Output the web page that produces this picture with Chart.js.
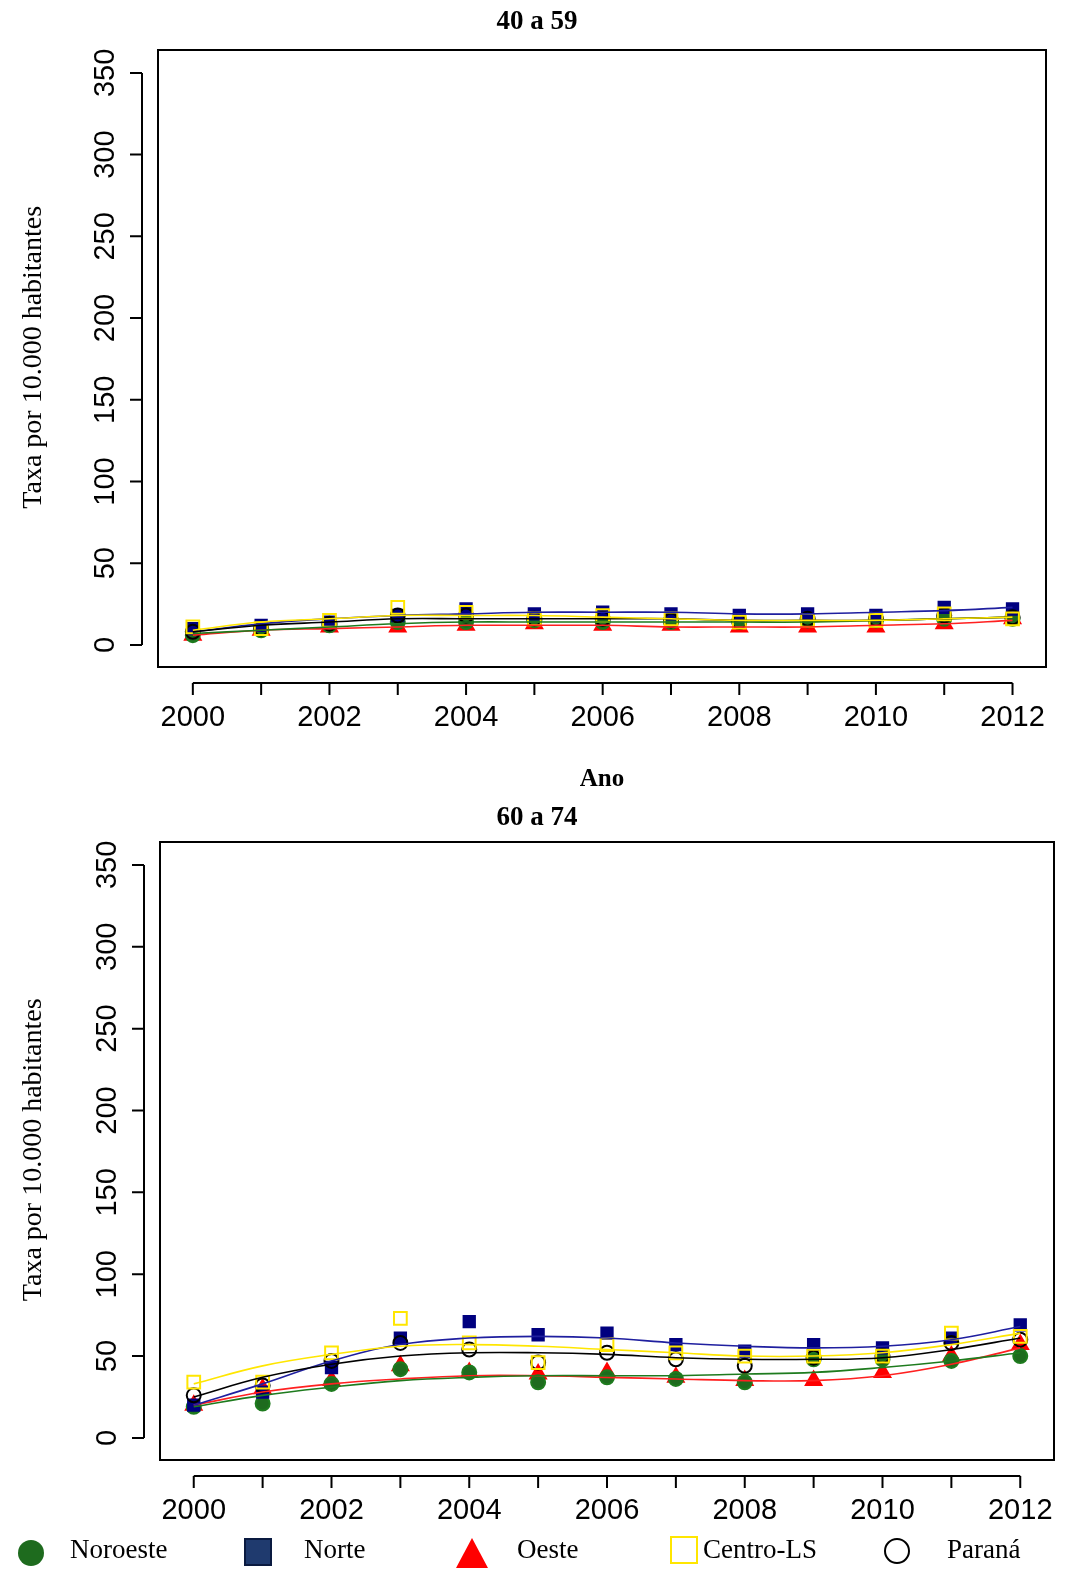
<!DOCTYPE html>
<html><head><meta charset="utf-8">
<script src="https://cdn.jsdelivr.net/npm/chart.js@4/dist/chart.umd.min.js"></script>
<style>
body{margin:0;background:#fff;width:1074px;height:1585px;position:relative;overflow:hidden}
canvas{position:absolute;left:0}
#legend{position:absolute;top:1534px;left:0;width:1074px;height:40px;font:27px "Liberation Serif";}
#legend span{position:absolute;top:0}
.mk{position:absolute;box-sizing:border-box}
</style></head><body>
<canvas id="c1" width="1074" height="800" style="top:0"></canvas>
<canvas id="c2" width="1074" height="785" style="top:800px"></canvas>
<div id="legend">
  <div class="mk" style="left:18px;top:6px;width:26px;height:26px;border-radius:50%;background:#1e6b1e"></div><span style="left:70px">Noroeste</span>
  <div class="mk" style="left:244px;top:4px;width:28px;height:28px;background:#1f3a6e;border:2px solid #0a1a40"></div><span style="left:304px">Norte</span>
  <div class="mk" style="left:456px;top:4px;width:0;height:0;border-left:16px solid transparent;border-right:16px solid transparent;border-bottom:30px solid red"></div><span style="left:517px">Oeste</span>
  <div class="mk" style="left:670px;top:2px;width:28px;height:28px;border:2px solid #ffe600"></div><span style="left:703px">Centro-LS</span>
  <div class="mk" style="left:884px;top:4px;width:26px;height:26px;border-radius:50%;border:2px solid #000"></div><span style="left:947px">Paraná</span>
</div>
<script>
const years = [2000,2001,2002,2003,2004,2005,2006,2007,2008,2009,2010,2011,2012];
const yTicks = [0,50,100,150,200,250,300,350];
const xTicks = [2000,2002,2004,2006,2008,2010,2012];

// 40 a 59 - observed
const a_noroeste = [6,9,12,14,14,15,14,14,15,15,15,16,16];
const a_norte    = [10,12,14,18,22,19,20,19,18,19,18,23,22];
const a_oeste    = [6,9,11,11,12,13,12,12,11,11,11,13,16];
const a_centro   = [11,10,15,23,20,16,18,16,14,15,15,19,16];
const a_parana   = [8,10,13,18,18,16,16,15,14,16,16,18,17];
// 40 a 59 - fitted curves
const af_noroeste = [7,9,11,13,14,14,14,14,14,14,15,16,17];
const af_norte    = [8,13,16,18,19,20,20,20,19,19,20,21,23];
const af_oeste    = [6,9,10,11,12,12,12,11,11,11,12,13,15];
const af_centro   = [9,14,16,18,18,18,17,16,15,15,15,16,17];
const af_parana   = [8,12,14,16,16,16,16,16,15,15,15,16,17];

// 60 a 74 - observed
const b_noroeste = [19,21,33,42,40,34,37,36,34,48,48,47,50];
const b_norte    = [20,28,43,61,71,63,64,57,53,57,55,61,69];
const b_oeste    = [20,30,35,44,40,39,40,37,35,35,40,50,57];
const b_centro   = [34,34,52,73,58,46,57,52,50,50,50,64,62];
const b_parana   = [26,32,47,58,54,46,52,48,44,49,50,58,60];
// 60 a 74 - fitted curves
const bf_noroeste = [19,26,31,35,37,38,38,38,39,40,43,47,52];
const bf_norte    = [20,33,47,57,61,62,61,58,56,55,56,60,68];
const bf_oeste    = [20,28,33,36,38,38,37,36,35,35,38,45,55];
const bf_centro   = [33,44,51,56,57,56,54,52,50,50,52,57,64];
const bf_parana   = [25,37,45,50,52,52,51,49,48,48,49,54,61];

const styles = {
  noroeste:{c:'#1e7b1e',fill:'#1e6b1e',p:'circle',r:7,line:'#1e7b1e'},
  norte:{c:'#00007f',fill:'#00007f',p:'rect',r:8,line:'#1f1f9f'},
  oeste:{c:'#ff0000',fill:'#ff0000',p:'triangle',r:9,line:'#ff2020'},
  centro:{c:'#ffe600',fill:'rgba(0,0,0,0)',p:'rect',r:9,line:'#ffe600'},
  parana:{c:'#000',fill:'rgba(0,0,0,0)',p:'circle',r:7,line:'#000'}
};
const pts = arr => arr.map((v,i)=>({x:years[i],y:v}));

function build(obs, fit){
  const ds = [];
  const order = ['centro','parana','norte','noroeste','oeste'];
  order.forEach(k=>{
    const s = styles[k];
    ds.push({data:pts(fit[k]),borderColor:s.line,borderWidth:1.6,pointRadius:0,showLine:true,tension:0.4,fill:false});
  });
  order.forEach(k=>{
    const s = styles[k];
    ds.push({data:pts(obs[k]),showLine:false,pointStyle:s.p,pointRadius:s.r,pointBackgroundColor:s.fill,pointBorderColor:s.c,pointBorderWidth:2});
  });
  return ds;
}

const rAxes = {
  id:'rAxes',
  afterDraw(chart, args, o){
    const ctx = chart.ctx, a = chart.chartArea, xs = chart.scales.x, ys = chart.scales.y;
    ctx.save();
    ctx.strokeStyle='#000'; ctx.lineWidth=2;
    ctx.strokeRect(a.left,a.top,a.right-a.left,a.bottom-a.top);
    const yx = a.left-16;
    ctx.beginPath();
    ctx.moveTo(yx,ys.getPixelForValue(0)); ctx.lineTo(yx,ys.getPixelForValue(350));
    yTicks.forEach(t=>{const p=ys.getPixelForValue(t);ctx.moveTo(yx,p);ctx.lineTo(yx-12,p);});
    const xy = a.bottom+16;
    ctx.moveTo(xs.getPixelForValue(2000),xy); ctx.lineTo(xs.getPixelForValue(2012),xy);
    years.forEach(t=>{const p=xs.getPixelForValue(t);ctx.moveTo(p,xy);ctx.lineTo(p,xy+12);});
    ctx.stroke();
    ctx.fillStyle='#000';
    ctx.font='29px "Liberation Sans"';
    ctx.textAlign='center'; ctx.textBaseline='top';
    xTicks.forEach(t=>ctx.fillText(String(t),xs.getPixelForValue(t),xy+20));
    yTicks.forEach(t=>{
      const p=ys.getPixelForValue(t);
      ctx.save(); ctx.translate(yx-22,p); ctx.rotate(-Math.PI/2);
      ctx.textBaseline='bottom'; ctx.fillText(String(t),0,0); ctx.restore();
    });
    ctx.font='28px "Liberation Serif"';
    ctx.save(); ctx.translate(34,ys.getPixelForValue(176)); ctx.rotate(-Math.PI/2);
    ctx.textBaseline='middle'; ctx.fillText('Taxa por 10.000 habitantes',0,0); ctx.restore();
    ctx.font='bold 27px "Liberation Serif"'; ctx.textBaseline='middle';
    ctx.fillText(o.title,537,o.titleY);
    if(o.xlab){ ctx.font='bold 25px "Liberation Serif"'; ctx.fillText('Ano',602,o.xlabY); }
    ctx.restore();
  }
};

function makeChart(id, ds, pad, xmin, xmax, title, titleY, xlab, xlabY){
  return new Chart(document.getElementById(id),{
    type:'scatter',
    data:{datasets:ds},
    options:{
      responsive:false, animation:false,
      layout:{padding:pad},
      plugins:{legend:{display:false},tooltip:{enabled:false},rAxes:{title,titleY,xlab,xlabY}},
      scales:{
        x:{type:'linear',min:xmin,max:xmax,display:false},
        y:{type:'linear',min:-13.5,max:364,display:false}
      }
    },
    plugins:[rAxes]
  });
}

makeChart('c1',
  build({noroeste:a_noroeste,norte:a_norte,oeste:a_oeste,centro:a_centro,parana:a_parana},
        {noroeste:af_noroeste,norte:af_norte,oeste:af_oeste,centro:af_centro,parana:af_parana}),
  {left:158,right:28,top:50,bottom:133}, 1999.49, 2012.49, '40 a 59', 22, true, 780);
makeChart('c2',
  build({noroeste:b_noroeste,norte:b_norte,oeste:b_oeste,centro:b_centro,parana:b_parana},
        {noroeste:bf_noroeste,norte:bf_norte,oeste:bf_oeste,centro:bf_centro,parana:bf_parana}),
  {left:160,right:20,top:42,bottom:125}, 1999.51, 2012.49, '60 a 74', 18, false, 0);
</script>
</body></html>
